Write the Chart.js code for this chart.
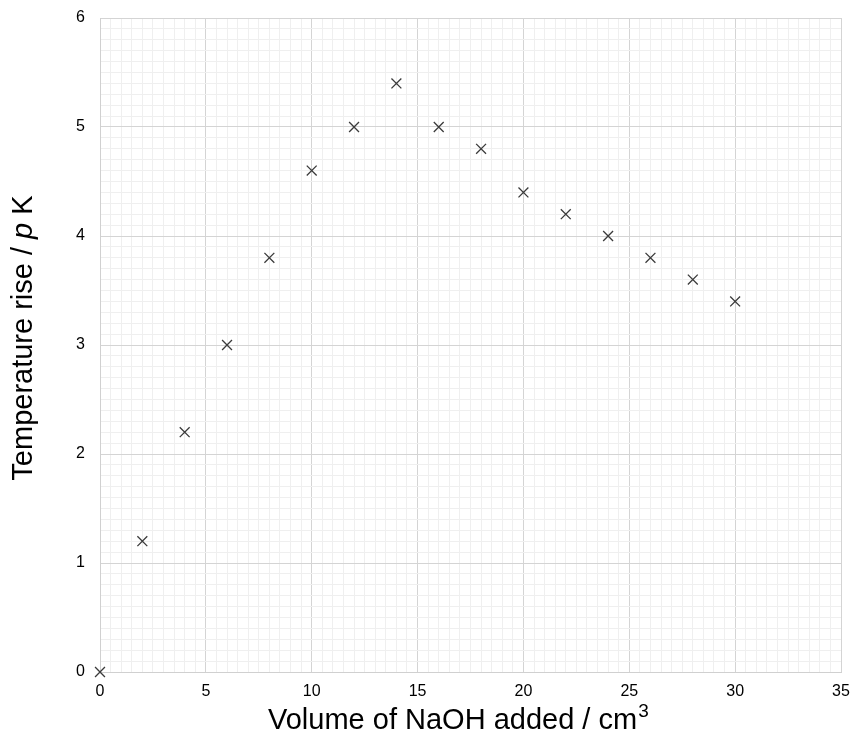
<!DOCTYPE html>
<html>
<head>
<meta charset="utf-8">
<script src="https://cdn.jsdelivr.net/npm/chart.js@4/dist/chart.umd.min.js"></script>
<style>
  body { margin: 0; background: #fff; }
  #wrap { width: 852px; height: 735px; }
</style>
</head>
<body>
<div id="wrap"><canvas id="chart" width="852" height="735"></canvas></div>
<script>
// data
var volume = [0, 2, 4, 6, 8, 10, 12, 14, 16, 18, 20, 22, 24, 26, 28, 30];
var tempRise = [0, 1.2, 2.2, 3.0, 3.8, 4.6, 5.0, 5.4, 5.0, 4.8, 4.4, 4.2, 4.0, 3.8, 3.6, 3.4];
var xTicks = [0, 5, 10, 15, 20, 25, 30, 35];
var yTicks = [0, 1, 2, 3, 4, 5, 6];

var fontFamily = '"Liberation Sans", Arial, sans-serif';

function isMajor(v, list) {
    for (var i = 0; i < list.length; i++) {
        if (Math.abs(v - list[i]) < 1e-6) return true;
    }
    return false;
}

// axis titles drawn by hand (italic p, superscript 3)
var titlesPlugin = {
    id: 'titles',
    afterDraw: function (chart) {
        var ctx = chart.ctx;
        var area = chart.chartArea;
        ctx.save();
        ctx.fillStyle = '#000';
        ctx.textBaseline = 'alphabetic';
        ctx.textAlign = 'left';

        var big = '29px ' + fontFamily;
        var small = '19px ' + fontFamily;
        var italic = 'italic 29px ' + fontFamily;

        // x title
        var t1 = 'Volume of NaOH added / cm';
        ctx.font = big;
        var w1 = ctx.measureText(t1).width;
        var x0 = 268;
        var y0 = 729;
        ctx.fillText(t1, x0, y0);
        ctx.font = small;
        ctx.fillText('3', x0 + w1 + 1, y0 - 12);

        // y title
        ctx.translate(32, 338);
        ctx.rotate(-Math.PI / 2);
        var a = 'Temperature rise / ', b = 'p', c = ' K';
        ctx.font = big;
        var wa = ctx.measureText(a).width, wc = ctx.measureText(c).width;
        ctx.font = italic;
        var wb = ctx.measureText(b).width;
        var sx = -(wa + wb + wc) / 2;
        ctx.font = big;
        ctx.fillText(a, sx, 0);
        ctx.font = italic;
        ctx.fillText(b, sx + wa, 0);
        ctx.font = big;
        ctx.fillText(c, sx + wa + wb, 0);
        ctx.restore();
    }
};

new Chart(document.getElementById('chart'), {
    type: 'scatter',
    data: {
        datasets: [{
            data: volume.map(function (v, i) { return { x: v, y: tempRise[i] }; }),
            pointStyle: 'crossRot',
            pointRadius: 7,
            pointHoverRadius: 7,
            borderColor: '#3a3a3a',
            borderWidth: 1.3,
            showLine: false,
            clip: false
        }]
    },
    options: {
        responsive: false,
        animation: false,
        devicePixelRatio: 1,
        layout: { padding: { top: 18, right: 11, left: 0, bottom: 0 } },
        plugins: { legend: { display: false }, tooltip: { enabled: false } },
        scales: {
            x: {
                type: 'linear',
                min: 0,
                max: 35,
                afterFit: function (s) {
                    s.height = 63;
                    s.paddingLeft = 0;
                    s.paddingRight = 0;
                },
                border: { color: '#d0d0d0', width: 1 },
                grid: {
                    drawTicks: false,
                    color: function (c) { return isMajor(c.tick.value, xTicks) ? '#d4d4d4' : '#efefef'; }
                },
                ticks: {
                    stepSize: 0.5,
                    autoSkip: false,
                    maxRotation: 0,
                    padding: 10,
                    color: '#000',
                    font: { family: fontFamily, size: 16 },
                    callback: function (v) { return isMajor(v, xTicks) ? String(Math.round(v)) : ''; }
                }
            },
            y: {
                type: 'linear',
                min: 0,
                max: 6,
                afterFit: function (s) {
                    s.width = 100;
                    s.paddingTop = 0;
                    s.paddingBottom = 0;
                },
                border: { color: '#d0d0d0', width: 1 },
                grid: {
                    drawTicks: false,
                    color: function (c) { return isMajor(c.tick.value, yTicks) ? '#d4d4d4' : '#efefef'; }
                },
                ticks: {
                    stepSize: 0.1,
                    autoSkip: false,
                    padding: 15,
                    color: '#000',
                    font: { family: fontFamily, size: 16 },
                    callback: function (v) { return isMajor(v, yTicks) ? String(Math.round(v)) : ''; }
                }
            }
        }
    },
    plugins: [titlesPlugin]
});
</script>
</body>
</html>
